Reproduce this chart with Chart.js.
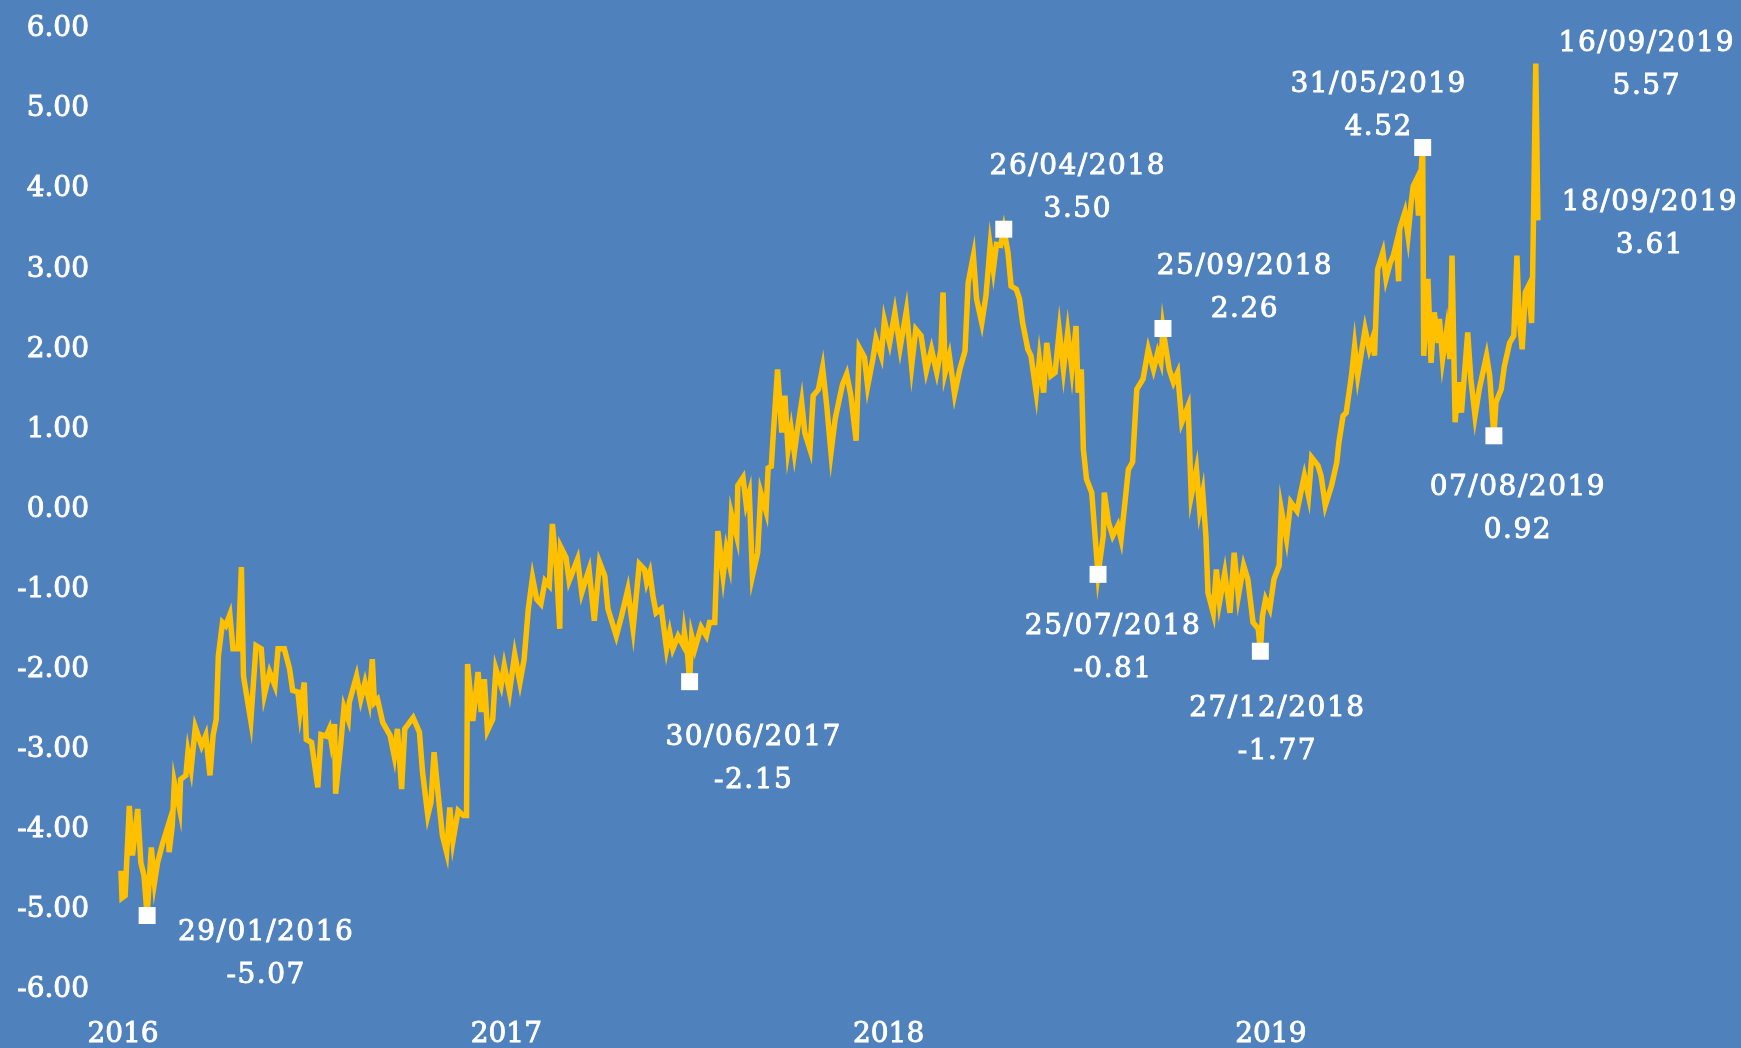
<!DOCTYPE html>
<html>
<head>
<meta charset="utf-8">
<script src="https://cdn.jsdelivr.net/npm/chart.js@4/dist/chart.umd.min.js"></script>
<style>
  html, body { margin: 0; padding: 0; background: #4F81BD; overflow: hidden; }
  canvas { display: block; }
</style>
</head>
<body>
<canvas id="chart" width="1741" height="1048"></canvas>
<script>
// daily spread (dates are ISO, values in points)
var dates = [
    '2016-01-04','2016-01-05','2016-01-08','2016-01-12','2016-01-15','2016-01-20','2016-01-23','2016-01-26','2016-01-29',
    '2016-02-02','2016-02-05','2016-02-08','2016-02-13','2016-02-18','2016-02-19','2016-02-22','2016-02-24','2016-02-29',
    '2016-03-01','2016-03-06','2016-03-08','2016-03-11','2016-03-15','2016-03-21','2016-03-25','2016-03-29',
    '2016-04-01','2016-04-04','2016-04-06','2016-04-10','2016-04-13','2016-04-17','2016-04-20','2016-04-25','2016-04-28','2016-04-30',
    '2016-05-07','2016-05-12','2016-05-17','2016-05-20','2016-05-25','2016-05-30',
    '2016-06-02','2016-06-08','2016-06-13','2016-06-16','2016-06-21','2016-06-23','2016-06-27','2016-06-29',
    '2016-07-04','2016-07-10','2016-07-13','2016-07-18','2016-07-21','2016-07-23','2016-07-26','2016-07-27',
    '2016-08-01','2016-08-04','2016-08-08','2016-08-09','2016-08-16','2016-08-20','2016-08-24','2016-08-28','2016-08-31',
    '2016-09-02','2016-09-05','2016-09-10','2016-09-17','2016-09-21','2016-09-24','2016-09-28',
    '2016-10-01','2016-10-09','2016-10-15','2016-10-18','2016-10-23','2016-10-26','2016-10-29',
    '2016-11-02','2016-11-06','2016-11-10','2016-11-13','2016-11-16','2016-11-21','2016-11-26','2016-11-29','2016-11-30',
    '2016-12-05','2016-12-10','2016-12-13','2016-12-16','2016-12-19','2016-12-24','2016-12-27',
    '2017-01-01','2017-01-04','2017-01-09','2017-01-14','2017-01-19','2017-01-23','2017-01-27','2017-01-31',
    '2017-02-04','2017-02-08','2017-02-12','2017-02-16','2017-02-19','2017-02-23','2017-02-26','2017-02-27',
    '2017-03-04','2017-03-07','2017-03-15','2017-03-19','2017-03-23','2017-03-26','2017-03-31',
    '2017-04-05','2017-04-10','2017-04-13','2017-04-21','2017-04-26',
    '2017-05-02','2017-05-07','2017-05-13','2017-05-18','2017-05-20','2017-05-23','2017-05-26','2017-05-29',
    '2017-06-03','2017-06-08','2017-06-11','2017-06-14','2017-06-19','2017-06-24','2017-06-25','2017-06-28','2017-06-30',
    '2017-07-02','2017-07-05','2017-07-11','2017-07-16','2017-07-19','2017-07-24','2017-07-27',
    '2017-08-01','2017-08-04','2017-08-07','2017-08-09','2017-08-14','2017-08-15','2017-08-20','2017-08-23','2017-08-26','2017-08-29',
    '2017-09-03','2017-09-06','2017-09-11','2017-09-13','2017-09-16','2017-09-18','2017-09-22','2017-09-26','2017-09-29',
    '2017-10-02','2017-10-05','2017-10-08','2017-10-11','2017-10-15','2017-10-18','2017-10-23','2017-10-26','2017-10-31',
    '2017-11-04','2017-11-08','2017-11-12','2017-11-16','2017-11-20','2017-11-23','2017-11-27',
    '2017-12-01','2017-12-06','2017-12-09','2017-12-14','2017-12-17','2017-12-22','2017-12-25','2017-12-30',
    '2018-01-02','2018-01-07','2018-01-12','2018-01-17','2018-01-23','2018-01-28',
    '2018-02-01','2018-02-06','2018-02-11','2018-02-16','2018-02-21','2018-02-25','2018-02-27',
    '2018-03-01','2018-03-05','2018-03-10','2018-03-15','2018-03-20','2018-03-23','2018-03-28','2018-03-31',
    '2018-04-05','2018-04-09','2018-04-13','2018-04-16','2018-04-19','2018-04-23','2018-04-26','2018-04-30',
    '2018-05-03','2018-05-08','2018-05-11','2018-05-14','2018-05-19','2018-05-22','2018-05-27','2018-05-30',
    '2018-06-03','2018-06-06','2018-06-10','2018-06-14','2018-06-18','2018-06-22','2018-06-26','2018-06-30',
    '2018-07-04','2018-07-06','2018-07-09','2018-07-11','2018-07-14','2018-07-19','2018-07-22','2018-07-25','2018-07-30','2018-07-31',
    '2018-08-04','2018-08-08','2018-08-13','2018-08-16','2018-08-19','2018-08-23','2018-08-27','2018-08-31',
    '2018-09-06','2018-09-11','2018-09-16','2018-09-20','2018-09-23','2018-09-25','2018-09-27',
    '2018-10-01','2018-10-05','2018-10-09','2018-10-13','2018-10-19','2018-10-22','2018-10-27','2018-10-30',
    '2018-11-02','2018-11-05','2018-11-07','2018-11-12','2018-11-15','2018-11-18','2018-11-23','2018-11-28',
    '2018-12-02','2018-12-06','2018-12-11','2018-12-15','2018-12-20','2018-12-25','2018-12-27','2018-12-29',
    '2019-01-01','2019-01-05','2019-01-09','2019-01-14','2019-01-16','2019-01-21','2019-01-25','2019-01-31',
    '2019-02-03','2019-02-07','2019-02-11','2019-02-14','2019-02-20','2019-02-23','2019-02-27',
    '2019-03-05','2019-03-10','2019-03-12','2019-03-16','2019-03-19','2019-03-24','2019-03-27','2019-03-30',
    '2019-04-06','2019-04-10','2019-04-14','2019-04-15','2019-04-18','2019-04-23','2019-04-26','2019-04-30',
    '2019-05-03','2019-05-06','2019-05-08','2019-05-09','2019-05-14','2019-05-17','2019-05-20','2019-05-22','2019-05-25','2019-05-27','2019-05-30','2019-05-31',
    '2019-06-01','2019-06-05','2019-06-08','2019-06-11','2019-06-15','2019-06-16','2019-06-19','2019-06-23','2019-06-26','2019-06-28',
    '2019-07-01','2019-07-04','2019-07-07','2019-07-13','2019-07-16','2019-07-20','2019-07-24','2019-07-31',
    '2019-08-03','2019-08-07','2019-08-09','2019-08-14','2019-08-17','2019-08-22','2019-08-26','2019-08-29','2019-08-31',
    '2019-09-03','2019-09-06','2019-09-09','2019-09-12','2019-09-13','2019-09-16','2019-09-18'
];
var values = [
    -4.51,-4.85,-4.82,-3.70,-4.32,-3.74,-4.41,-4.57,-5.07,
    -4.22,-4.66,-4.41,-4.16,-3.95,-4.28,-3.95,-3.41,-3.74,
    -3.37,-3.32,-3.03,-3.24,-2.72,-2.95,-2.82,-3.32,
    -2.82,-2.62,-1.83,-1.41,-1.45,-1.31,-1.74,-1.74,-0.72,-2.08,
    -2.64,-1.70,-1.74,-2.31,-2.03,-2.20,
    -1.74,-1.74,-1.99,-2.26,-2.28,-2.53,-2.16,-2.87,
    -2.91,-3.47,-2.81,-2.83,-2.74,-2.91,-2.68,-3.55,
    -2.91,-2.47,-2.62,-2.41,-2.08,-2.37,-2.16,-2.39,-1.87,
    -2.41,-2.37,-2.66,-2.82,-3.08,-2.74,-3.49,
    -2.74,-2.60,-2.78,-3.28,-3.82,-3.66,-3.03,
    -3.57,-4.07,-4.28,-3.72,-4.14,-3.76,-3.82,-3.82,-1.93,
    -2.64,-2.03,-2.53,-2.12,-2.76,-2.62,-1.99,
    -2.20,-1.95,-2.28,-1.81,-2.16,-1.87,-1.24,-0.85,
    -1.12,-1.18,-0.89,-0.95,-0.18,-0.75,-1.49,-0.47,
    -0.60,-0.89,-0.62,-1.04,-0.87,-0.75,-1.39,
    -0.66,-0.83,-1.24,-1.58,-1.33,
    -1.00,-1.49,-0.68,-0.75,-0.91,-0.79,-1.08,-1.29,
    -1.24,-1.74,-1.54,-1.74,-1.58,-1.70,-1.54,-1.80,-2.15,
    -1.58,-1.74,-1.47,-1.58,-1.41,-1.41,-0.27,
    -0.83,-0.50,-0.68,-0.06,-0.33,0.30,0.40,0.07,0.21,-0.83,
    -0.54,0.21,-0.02,0.52,0.54,0.96,1.75,0.96,1.42,
    0.75,1.00,0.71,1.00,1.34,0.96,0.75,1.42,1.50,
    1.77,1.29,0.71,1.13,1.38,1.56,1.69,
    1.42,0.86,2.02,1.90,1.54,1.88,2.13,1.92,
    2.36,2.08,2.46,2.02,2.48,1.79,
    2.25,2.17,1.73,2.00,1.71,2.00,2.71,
    1.71,1.92,1.44,1.75,1.98,2.83,3.17,2.63,
    2.33,2.67,3.29,3.00,3.31,3.30,3.50,3.21,
    2.79,2.75,2.63,2.33,2.00,1.92,1.46,1.88,
    1.46,2.08,1.67,1.71,2.23,1.75,2.21,1.75,
    2.29,1.46,1.75,0.75,0.38,0.21,-0.30,-0.81,-0.33,0.21,
    -0.16,-0.33,-0.20,-0.37,0.00,0.50,0.59,1.50,
    1.63,2.00,1.75,1.96,1.84,2.26,2.08,
    1.75,1.59,1.71,1.09,1.29,0.17,0.50,0.00,
    0.21,-0.33,-1.04,-1.29,-0.75,-1.16,-0.79,-1.29,
    -0.54,-1.08,-0.70,-0.87,-1.41,-1.49,-1.77,-1.33,
    -1.12,-1.24,-0.87,-0.70,0.00,-0.37,0.09,-0.02,
    0.17,0.42,0.17,0.65,0.55,0.42,0.05,
    0.30,0.59,0.84,1.17,1.21,1.67,2.04,1.67,
    2.25,2.00,2.17,1.92,3.00,3.21,2.88,3.08,
    3.17,3.33,2.85,3.50,3.71,3.42,3.83,4.04,4.12,3.67,4.33,4.52,
    1.92,2.88,1.83,2.46,2.08,2.38,1.88,2.25,1.88,3.17,
    1.09,1.59,1.21,2.21,1.63,1.17,1.50,1.92,
    1.67,0.92,1.34,1.50,1.79,2.08,2.17,3.17,2.42,
    2.00,2.71,2.79,2.33,2.92,5.57,3.61
];

// labelled points
var calloutDates = ['2016-01-29','2017-06-30','2018-04-26','2018-07-25','2018-09-25',
                    '2018-12-27','2019-05-31','2019-08-07','2019-09-16','2019-09-18'];
var calloutValues = [-5.07, -2.15, 3.50, -0.81, 2.26, -1.77, 4.52, 0.92, 5.57, 3.61];
var squareCount = 8; // the last two callouts have no square

// year labels sit on the first trading week of each year
var yearLabels = ['2016', '2017', '2018', '2019'];

var BLUE = '#4F81BD';
var GOLD = '#FFC000';
var FONT = '"DejaVu Serif", "Liberation Serif", serif';

var DAY0 = Date.UTC(2016, 0, 1);
function dayOf(iso) {
    var p = iso.split('-');
    return (Date.UTC(+p[0], +p[1] - 1, +p[2]) - DAY0) / 86400000;
}
function ddmmyyyy(iso) {
    var p = iso.split('-');
    return p[2] + '/' + p[1] + '/' + p[0];
}

var lineData = dates.map(function (d, i) { return { x: dayOf(d), y: values[i] }; });
var squareData = calloutDates.slice(0, squareCount).map(function (d, i) {
    return { x: dayOf(d), y: calloutValues[i] };
});
var yearTicks = yearLabels.map(function (y) { return dayOf(y + '-01-06'); });

// where each two-line label sits relative to its point (dx, dy of first line)
var labelOffsets = [[119, 17], [64, 56], [74, -62], [15, 52], [82, -62],
                    [17, 57], [-44, -63], [24, 52], [111, -20], [112, -18]];
var LINE_GAP = 43;

var background = {
    id: 'background',
    beforeDraw: function (chart) {
        var ctx = chart.ctx;
        ctx.save();
        ctx.fillStyle = BLUE;
        ctx.fillRect(0, 0, chart.width, chart.height);
        ctx.restore();
    }
};

var callouts = {
    id: 'callouts',
    afterDatasetsDraw: function (chart) {
        var ctx = chart.ctx;
        var xs = chart.scales.x, ys = chart.scales.y;
        ctx.save();
        ctx.fillStyle = '#FFFFFF';
        ctx.strokeStyle = '#FFFFFF';
        ctx.lineWidth = 0.9;
        ctx.font = '28px ' + FONT;
        ctx.letterSpacing = '1.5px';
        ctx.textAlign = 'center';
        ctx.textBaseline = 'middle';
        calloutDates.forEach(function (d, i) {
            var px = xs.getPixelForValue(dayOf(d)) + labelOffsets[i][0];
            var py = ys.getPixelForValue(calloutValues[i]) + labelOffsets[i][1];
            var lines = [ddmmyyyy(d), calloutValues[i].toFixed(2)];
            lines.forEach(function (t, k) {
                ctx.fillText(t, px, py + k * LINE_GAP);
                ctx.strokeText(t, px, py + k * LINE_GAP);
            });
        });
        ctx.restore();
    }
};

var tickFont = { family: FONT, size: 28 };

var ctx = document.getElementById('chart').getContext('2d');
new Chart(ctx, {
    type: 'line',
    data: {
        datasets: [{
            label: 'squares',
            data: squareData,
            showLine: false,
            pointStyle: 'rect',
            pointRadius: 12,
            pointHoverRadius: 12,
            pointBackgroundColor: '#FFFFFF',
            pointBorderWidth: 0,
            order: 0
        }, {
            label: 'spread',
            data: lineData,
            borderColor: GOLD,
            borderWidth: 5.5,
            pointRadius: 0,
            tension: 0,
            fill: false,
            order: 1
        }]
    },
    options: {
        responsive: false,
        animation: false,
        devicePixelRatio: 1,
        layout: { padding: { top: 29, left: 0, right: 0, bottom: 0 } },
        plugins: { legend: { display: false }, tooltip: { enabled: false } },
        scales: {
            x: {
                type: 'linear',
                min: -17,
                max: 1538.5,
                grid: { display: false, drawTicks: false },
                border: { display: false },
                afterBuildTicks: function (scale) {
                    scale.ticks = yearTicks.map(function (v) { return { value: v }; });
                },
                afterFit: function (scale) { scale.height = 58; },
                ticks: {
                    autoSkip: false,
                    maxRotation: 0,
                    padding: 28,
                    color: '#FFFFFF',
                    textStrokeColor: '#FFFFFF',
                    textStrokeWidth: 0.9,
                    font: tickFont,
                    callback: function (v, i) { return yearLabels[i]; }
                }
            },
            y: {
                min: -6,
                max: 6,
                grid: { display: false, drawTicks: false },
                border: { display: false },
                afterFit: function (scale) { scale.width = 100; },
                ticks: {
                    stepSize: 1,
                    padding: 11,
                    color: '#FFFFFF',
                    textStrokeColor: '#FFFFFF',
                    textStrokeWidth: 0.9,
                    font: tickFont,
                    callback: function (v) { return v.toFixed(2); }
                }
            }
        }
    },
    plugins: [background, callouts]
});
</script>
</body>
</html>
